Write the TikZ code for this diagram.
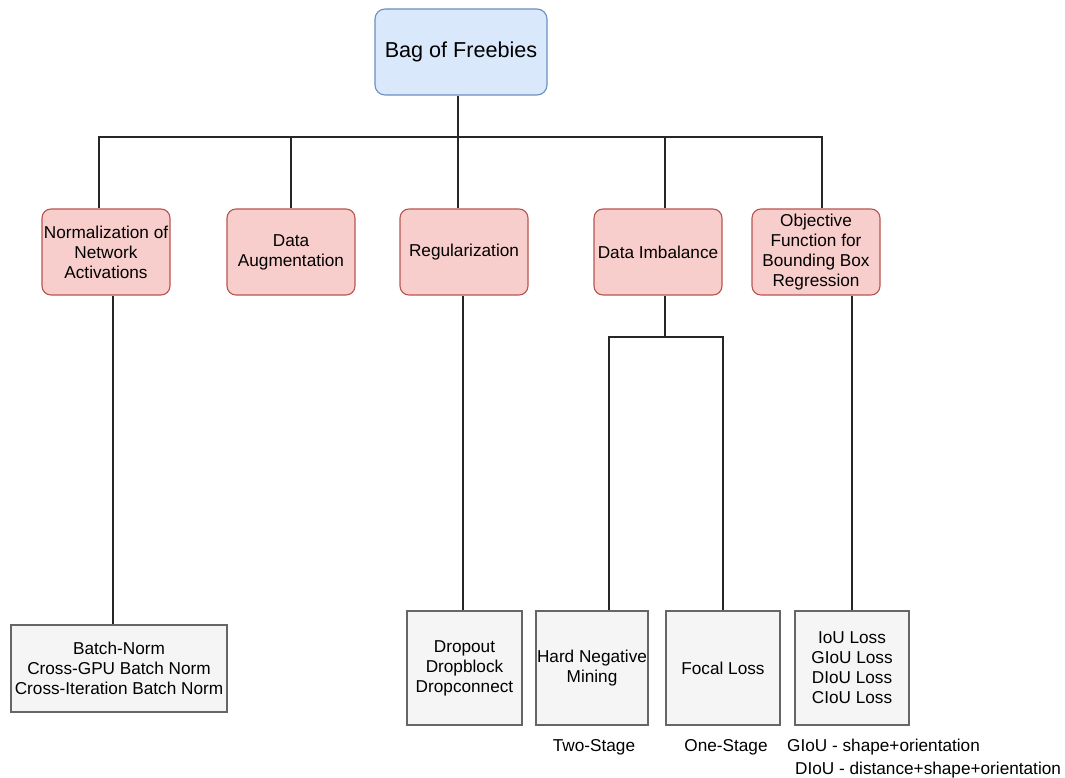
\documentclass[tikz,border=0pt]{standalone}
\usepackage{fontspec}
\setmainfont{Liberation Sans}
\begin{document}
\begin{tikzpicture}[x=1pt,y=-1pt,
  every node/.style={align=center,inner sep=0pt,font=\fontsize{17.2}{20}\selectfont},
  rootbox/.style={draw=rootline,fill=rootfill,rounded corners=10pt,line width=1.1pt,
    minimum width=172pt,minimum height=86pt,font=\fontsize{21.6}{24}\selectfont},
  catbox/.style={draw=catline,fill=catfill,rounded corners=9pt,line width=1.1pt,
    minimum width=128pt,minimum height=86pt},
  leafbox/.style={draw=leafline,fill=leaffill,line width=1.1pt},
  note/.style={anchor=base},
  link/.style={draw=black!85,line width=1.2pt}]
\definecolor{rootfill}{HTML}{DAE8FC}
\definecolor{rootline}{HTML}{6C8EBF}
\definecolor{catfill}{HTML}{F8CECC}
\definecolor{catline}{HTML}{B85450}
\definecolor{leaffill}{HTML}{F5F5F5}
\definecolor{leafline}{HTML}{666666}

\useasboundingbox (0,0) rectangle (1065,778);

% root
\node[rootbox] (root) at (461,52) {Bag of Freebies};

% categories
\node[catbox] (norm) at (106,252) {Normalization of\\Network\\Activations};
\node[catbox] (aug)  at (291,252) {Data\\Augmentation};
\node[catbox] (reg)  at (464,252) {Regularization};
\node[catbox] (imb)  at (658,252) {Data Imbalance};
\node[catbox] (obj)  at (816,252) {Objective\\Function for\\Bounding Box\\Regression};

% leaves
\node[leafbox,minimum width=216pt,minimum height=87pt] (bn) at (119,668.5)
  {Batch-Norm\\Cross-GPU Batch Norm\\Cross-Iteration Batch Norm};
\node[leafbox,minimum width=115pt,minimum height=114pt] (drop) at (464.5,668)
  {Dropout\\Dropblock\\Dropconnect};
\node[leafbox,minimum width=112pt,minimum height=114pt] (hard) at (592,668)
  {Hard Negative\\Mining};
\node[leafbox,minimum width=114pt,minimum height=114pt] (focal) at (723,668)
  {Focal Loss};
\node[leafbox,minimum width=114pt,minimum height=114pt] (iou) at (852,668)
  {IoU Loss\\GIoU Loss\\DIoU Loss\\CIoU Loss};

% captions under the leaves
\node[note] (two) at (594,751) {Two-Stage};
\node[note] (one) at (726,751) {One-Stage};
\node[note,anchor=base west] (giou) at (787,751) {GIoU - shape+orientation};
\node[note,anchor=base west] (diou) at (795,774) {DIoU - distance+shape+orientation};

% bus from the root to the categories
\coordinate (bus) at (458,137);
\draw[link] ([xshift=-3pt]root.south) -- (bus);
\draw[link] (bus) -| ([xshift=-7pt]norm.north);
\draw[link] (bus) -| (aug.north);
\draw[link] (bus) -- ([xshift=-6pt]reg.north);
\draw[link] (bus) -| ([xshift=7pt]imb.north);
\draw[link] (bus) -| ([xshift=6pt]obj.north);

% categories down to their leaves
\draw[link] ([xshift=-6pt]bn.north) -- ([xshift=-6pt]bn.north |- norm.south);
\draw[link] ([xshift=-1.5pt]drop.north) -- ([xshift=-1.5pt]drop.north |- reg.south);
\draw[link] (iou.north) -- (iou.north |- obj.south);

% data imbalance splits into two branches
\coordinate (split) at (665,337);
\draw[link] ([xshift=7pt]imb.south) -- (split);
\draw[link] ([xshift=17pt]hard.north) -- ([xshift=17pt]hard.north |- split)
  -- (focal.north |- split) -- (focal.north);
\end{tikzpicture}
\end{document}
